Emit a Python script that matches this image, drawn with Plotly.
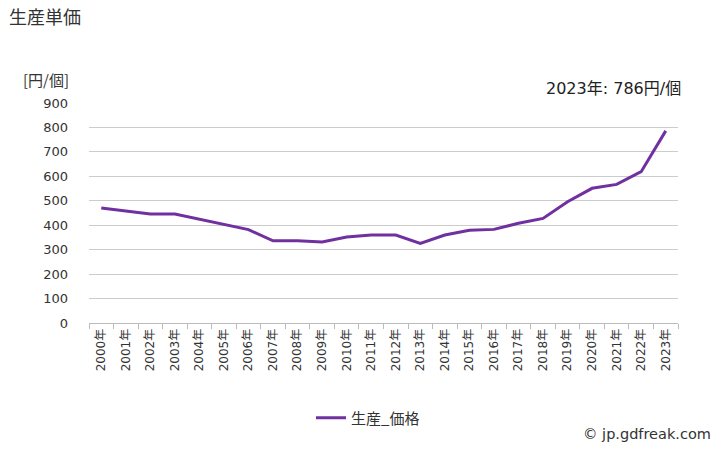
import plotly.graph_objects as go

years = [f"{y}年" for y in range(2000, 2024)]
price = [470, 458, 446, 446, 425, 405, 382, 336, 336, 331, 352, 360, 360, 326,
         360, 379, 383, 408, 428, 496, 551, 567, 619, 786]
series_name = "生産_価格"
y_ticks = [0, 100, 200, 300, 400, 500, 600, 700, 800, 900]

font = "DejaVu Sans, Noto Sans CJK JP, sans-serif"
cjk = "Noto Sans CJK JP, sans-serif"

fig = go.Figure()
fig.add_trace(go.Scatter(
    x=years, y=price, mode="lines", name=series_name,
    line=dict(color="#7030A0", width=3),
))

fig.update_layout(
    width=728, height=450,
    margin=dict(l=89, r=50, t=103, b=127),
    paper_bgcolor="white", plot_bgcolor="white",
    font=dict(family=font, color="#333333"),
    showlegend=True,
    legend=dict(orientation="h", x=(311-89)/589, xanchor="left", y=(323-418)/220, yanchor="middle",
                font=dict(family=cjk, size=15, color="#333333"), itemwidth=30),
    title=dict(text="生産単価", x=9/728, xanchor="left", y=1-18/450, yanchor="middle",
               font=dict(family=cjk, size=18, color="#333333")),
    annotations=[
        dict(text="[円/個]", xref="paper", yref="paper", x=(21-89)/589, y=(323-79)/220,
             xanchor="left", yanchor="middle", showarrow=False,
             font=dict(family=cjk, size=15, color="#333333")),
        dict(text="2023年: 786円/個", xref="paper", yref="paper", x=(683-89)/589, y=(323-88)/220,
             xanchor="right", yanchor="middle", showarrow=False, font=dict(size=16, color="#222222")),
        dict(text="© jp.gdfreak.com", xref="paper", yref="paper", x=(713-89)/589, y=(323-434)/220,
             xanchor="right", yanchor="middle", showarrow=False, font=dict(size=14.5, color="#333333")),
    ],
)
fig.update_xaxes(
    type="category", range=[-0.5, 23.5], tickangle=-90,
    tickson="boundaries", ticks="outside", ticklen=5, tickcolor="#bbbbbb",
    showline=True, linecolor="#bbbbbb", showgrid=False,
    tickfont=dict(size=12, color="#333333"),
)
fig.update_yaxes(
    range=[0, 900], tickvals=y_ticks, showgrid=True, gridcolor="#cccccc",
    zeroline=False, showline=False, ticks="", ticklabelstandoff=20,
    tickfont=dict(size=13, color="#333333"),
)

fig.write_html("out.html")
